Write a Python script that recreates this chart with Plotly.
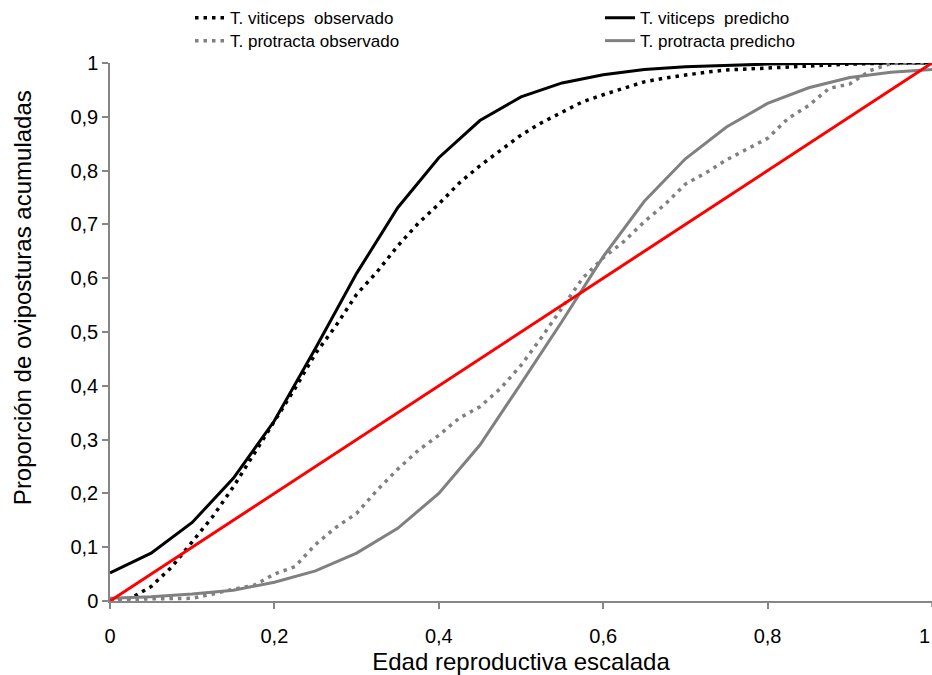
import plotly.graph_objects as go

# Predicted curves (x every 0.05)
x_pred = [0, 0.05, 0.1, 0.15, 0.2, 0.25, 0.3, 0.35, 0.4, 0.45, 0.5, 0.55, 0.6, 0.65,
          0.7, 0.75, 0.8, 0.85, 0.9, 0.95, 1.0]
vit_pred = [0.052, 0.089, 0.146, 0.228, 0.335, 0.47, 0.609, 0.731, 0.824, 0.893, 0.937,
            0.963, 0.978, 0.988, 0.993, 0.996, 0.998, 0.999, 0.9995, 1.0, 1.0]
pro_pred = [0.005, 0.008, 0.013, 0.02, 0.035, 0.056, 0.089, 0.135, 0.2, 0.29, 0.404,
            0.52, 0.64, 0.743, 0.822, 0.881, 0.925, 0.954, 0.973, 0.983, 0.988]

# Observed curves (x every 0.025)
x_obs = [0, 0.025, 0.05, 0.075, 0.1, 0.125, 0.15, 0.175, 0.2, 0.225, 0.25, 0.275, 0.3,
         0.325, 0.35, 0.375, 0.4, 0.425, 0.45, 0.475, 0.5, 0.525, 0.55, 0.575, 0.6,
         0.625, 0.65, 0.675, 0.7, 0.725, 0.75, 0.775, 0.8, 0.825, 0.85, 0.875, 0.9,
         0.925, 0.95, 0.975, 1.0]
vit_obs = [0, 0.005, 0.027, 0.063, 0.11, 0.157, 0.212, 0.272, 0.335, 0.395, 0.46, 0.512,
           0.57, 0.612, 0.66, 0.702, 0.738, 0.777, 0.809, 0.838, 0.866, 0.889, 0.909,
           0.928, 0.941, 0.953, 0.965, 0.972, 0.978, 0.983, 0.987, 0.989, 0.991, 0.993,
           0.995, 0.997, 0.998, 0.999, 1.0, 1.0, 1.0]
pro_obs = [0, 0.003, 0.004, 0.004, 0.005, 0.013, 0.022, 0.029, 0.05, 0.064, 0.105, 0.137,
           0.163, 0.206, 0.245, 0.28, 0.308, 0.34, 0.361, 0.395, 0.438, 0.49, 0.546, 0.6,
           0.638, 0.668, 0.705, 0.737, 0.775, 0.796, 0.82, 0.84, 0.86, 0.897, 0.921,
           0.953, 0.961, 0.986, 0.999, 1.0, 1.0]

# Reference 1:1 line
x_ref = [0, 1]
y_ref = [0, 1]

names = ["T. viticeps  observado", "T. viticeps  predicho",
         "T. protracta observado", "T. protracta predicho"]

x_ticks = [0, 0.2, 0.4, 0.6, 0.8]
y_ticks = [0, 0.1, 0.2, 0.3, 0.4, 0.5, 0.6, 0.7, 0.8, 0.9, 1]

x_title = "Edad reproductiva escalada"
y_title = "Proporción de oviposturas acumuladas"

FONT = "Liberation Sans, Arial, sans-serif"
DOT = "3.5px,5px"
fig = go.Figure()
fig.add_trace(go.Scatter(x=x_obs, y=vit_obs, mode="lines", name=names[0], legend="legend",
                         line=dict(color="#000000", width=3.5, dash=DOT), cliponaxis=False))
fig.add_trace(go.Scatter(x=x_pred, y=vit_pred, mode="lines", name=names[1], legend="legend2",
                         line=dict(color="#000000", width=3), cliponaxis=False))
fig.add_trace(go.Scatter(x=x_obs, y=pro_obs, mode="lines", name=names[2], legend="legend3",
                         line=dict(color="#808080", width=3.5, dash=DOT), cliponaxis=False))
fig.add_trace(go.Scatter(x=x_pred, y=pro_pred, mode="lines", name=names[3], legend="legend4",
                         line=dict(color="#808080", width=3), cliponaxis=False))
fig.add_trace(go.Scatter(x=x_ref, y=y_ref, mode="lines", showlegend=False,
                         line=dict(color="#FF0000", width=3), cliponaxis=False))

def leg(xp, yp):
    return dict(x=(xp - 110) / 822, xanchor="left", y=(601 - yp) / 540, yanchor="middle",
                font=dict(family=FONT, size=17, color="#000000"),
                bgcolor="rgba(0,0,0,0)", borderwidth=0)

fig.update_layout(
    width=932, height=675,
    margin=dict(l=110, r=0, t=61, b=74),
    paper_bgcolor="white", plot_bgcolor="white",
    separators=", ",
    font=dict(family=FONT, color="#000000", size=20),
    showlegend=True,
    legend=leg(190, 16),
    legend2=leg(600, 16),
    legend3=leg(190, 39),
    legend4=leg(600, 39),
    xaxis=dict(range=[0, 1], tickvals=x_ticks,
               showgrid=False, zeroline=False, showline=True, linecolor="#868686",
               linewidth=1.5, ticks="outside", ticklen=6, tickcolor="#868686", tickwidth=1.5,
               tickfont=dict(size=20), ticklabelstandoff=10,
               title=dict(text=x_title, font=dict(size=24), standoff=8)),
    yaxis=dict(range=[0, 1], tickvals=y_ticks,
               showgrid=False, zeroline=False, showline=True, linecolor="#868686",
               linewidth=1.5, ticks="outside", ticklen=6, tickcolor="#868686", tickwidth=1.5,
               tickfont=dict(size=20)),
)

# y-axis title placed as in the reference (centred a little above the plot centre)
fig.add_annotation(xref="paper", yref="paper", x=(22 - 110) / 822, y=(601 - 297) / 540,
                   text=y_title, textangle=-90, showarrow=False,
                   xanchor="center", yanchor="middle",
                   font=dict(family=FONT, size=24, color="#000000"))

# x tick mark and label at 1 (at the right edge of the window)
fig.add_shape(type="line", xref="x", yref="paper", x0=1, x1=1, y0=0, y1=-6 / 540,
              line=dict(color="#868686", width=1.5))
fig.add_annotation(xref="x", yref="paper", x=1, y=(601 - 636) / 540, text="1",
                   showarrow=False, xanchor="right", yanchor="middle",
                   font=dict(family=FONT, size=20, color="#000000"))

fig.write_html("out.html")
